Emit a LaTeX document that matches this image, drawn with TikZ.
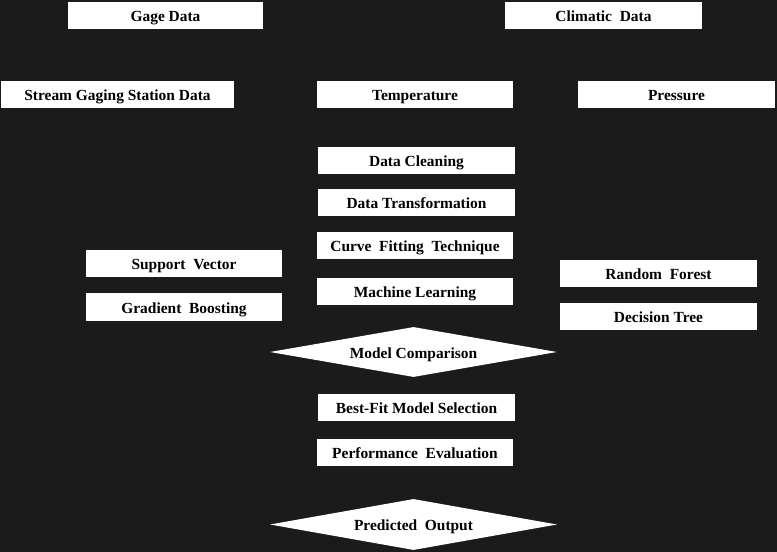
\documentclass[tikz,border=0pt]{standalone}
\usepackage{fontspec}
\setmainfont{Liberation Serif}
\usetikzlibrary{shapes.geometric}
\definecolor{bgdark}{RGB}{27,27,27}
\tikzset{
  box/.style={draw=none, fill=white, text=black, inner sep=0pt,
    minimum height=27bp, text height=12bp, text depth=0bp,
    font=\bfseries\fontsize{15.5}{18}\selectfont},
  dia/.style={diamond, draw=none, fill=white, text=black, inner sep=0pt,
    aspect=5.74, minimum width=287bp, minimum height=50bp,
    text height=12bp, text depth=0bp,
    font=\bfseries\fontsize{15.5}{18}\selectfont}
}
\begin{document}
\begin{tikzpicture}[x=1bp, y=-1bp]
\fill[bgdark] (0,0) rectangle (777,552);
\useasboundingbox (0,0) rectangle (777,552);
% inputs
\node[box, minimum width=195bp] (gage) at (165.5,15.5) {Gage Data};
\node[box, minimum width=197bp] (clim) at (603.5,15.5) {Climatic\ \ Data};
\node[box, minimum width=233bp] (stream) at (117.5,94.5) {Stream Gaging Station Data};
\node[box, minimum width=196bp] (temp) at (415,94.5) {Temperature};
\node[box, minimum width=197bp] (pres) at (676.5,94.5) {Pressure};
% processing chain
\node[box, minimum width=197bp] (clean) at (416.5,160.5) {Data Cleaning};
\node[box, minimum width=197bp] (trans) at (416.5,202.5) {Data Transformation};
\node[box, minimum width=196bp] (curve) at (415,245.5) {Curve\ \ Fitting\ \ Technique};
\node[box, minimum width=196bp] (ml) at (415,291.5) {Machine Learning};
% models
\node[box, minimum width=196bp] (sv) at (184,263.5) {Support\ \ Vector};
\node[box, minimum width=196bp, minimum height=28bp] (gb) at (184,307) {Gradient\ \ Boosting};
\node[box, minimum width=197bp] (rf) at (658.5,273.5) {Random\ \ Forest};
\node[box, minimum width=197bp] (dt) at (658.5,316.5) {Decision Tree};
% evaluation
\node[dia] (mc) at (413.5,352) {Model Comparison};
\node[box, minimum width=197bp] (best) at (416.5,407.5) {Best-Fit Model Selection};
\node[box, minimum width=196bp] (perf) at (415,452.5) {Performance\ \ Evaluation};
\node[dia, minimum height=51bp] (pred) at (413.5,524.5) {Predicted\ \ Output};
\end{tikzpicture}
\end{document}
